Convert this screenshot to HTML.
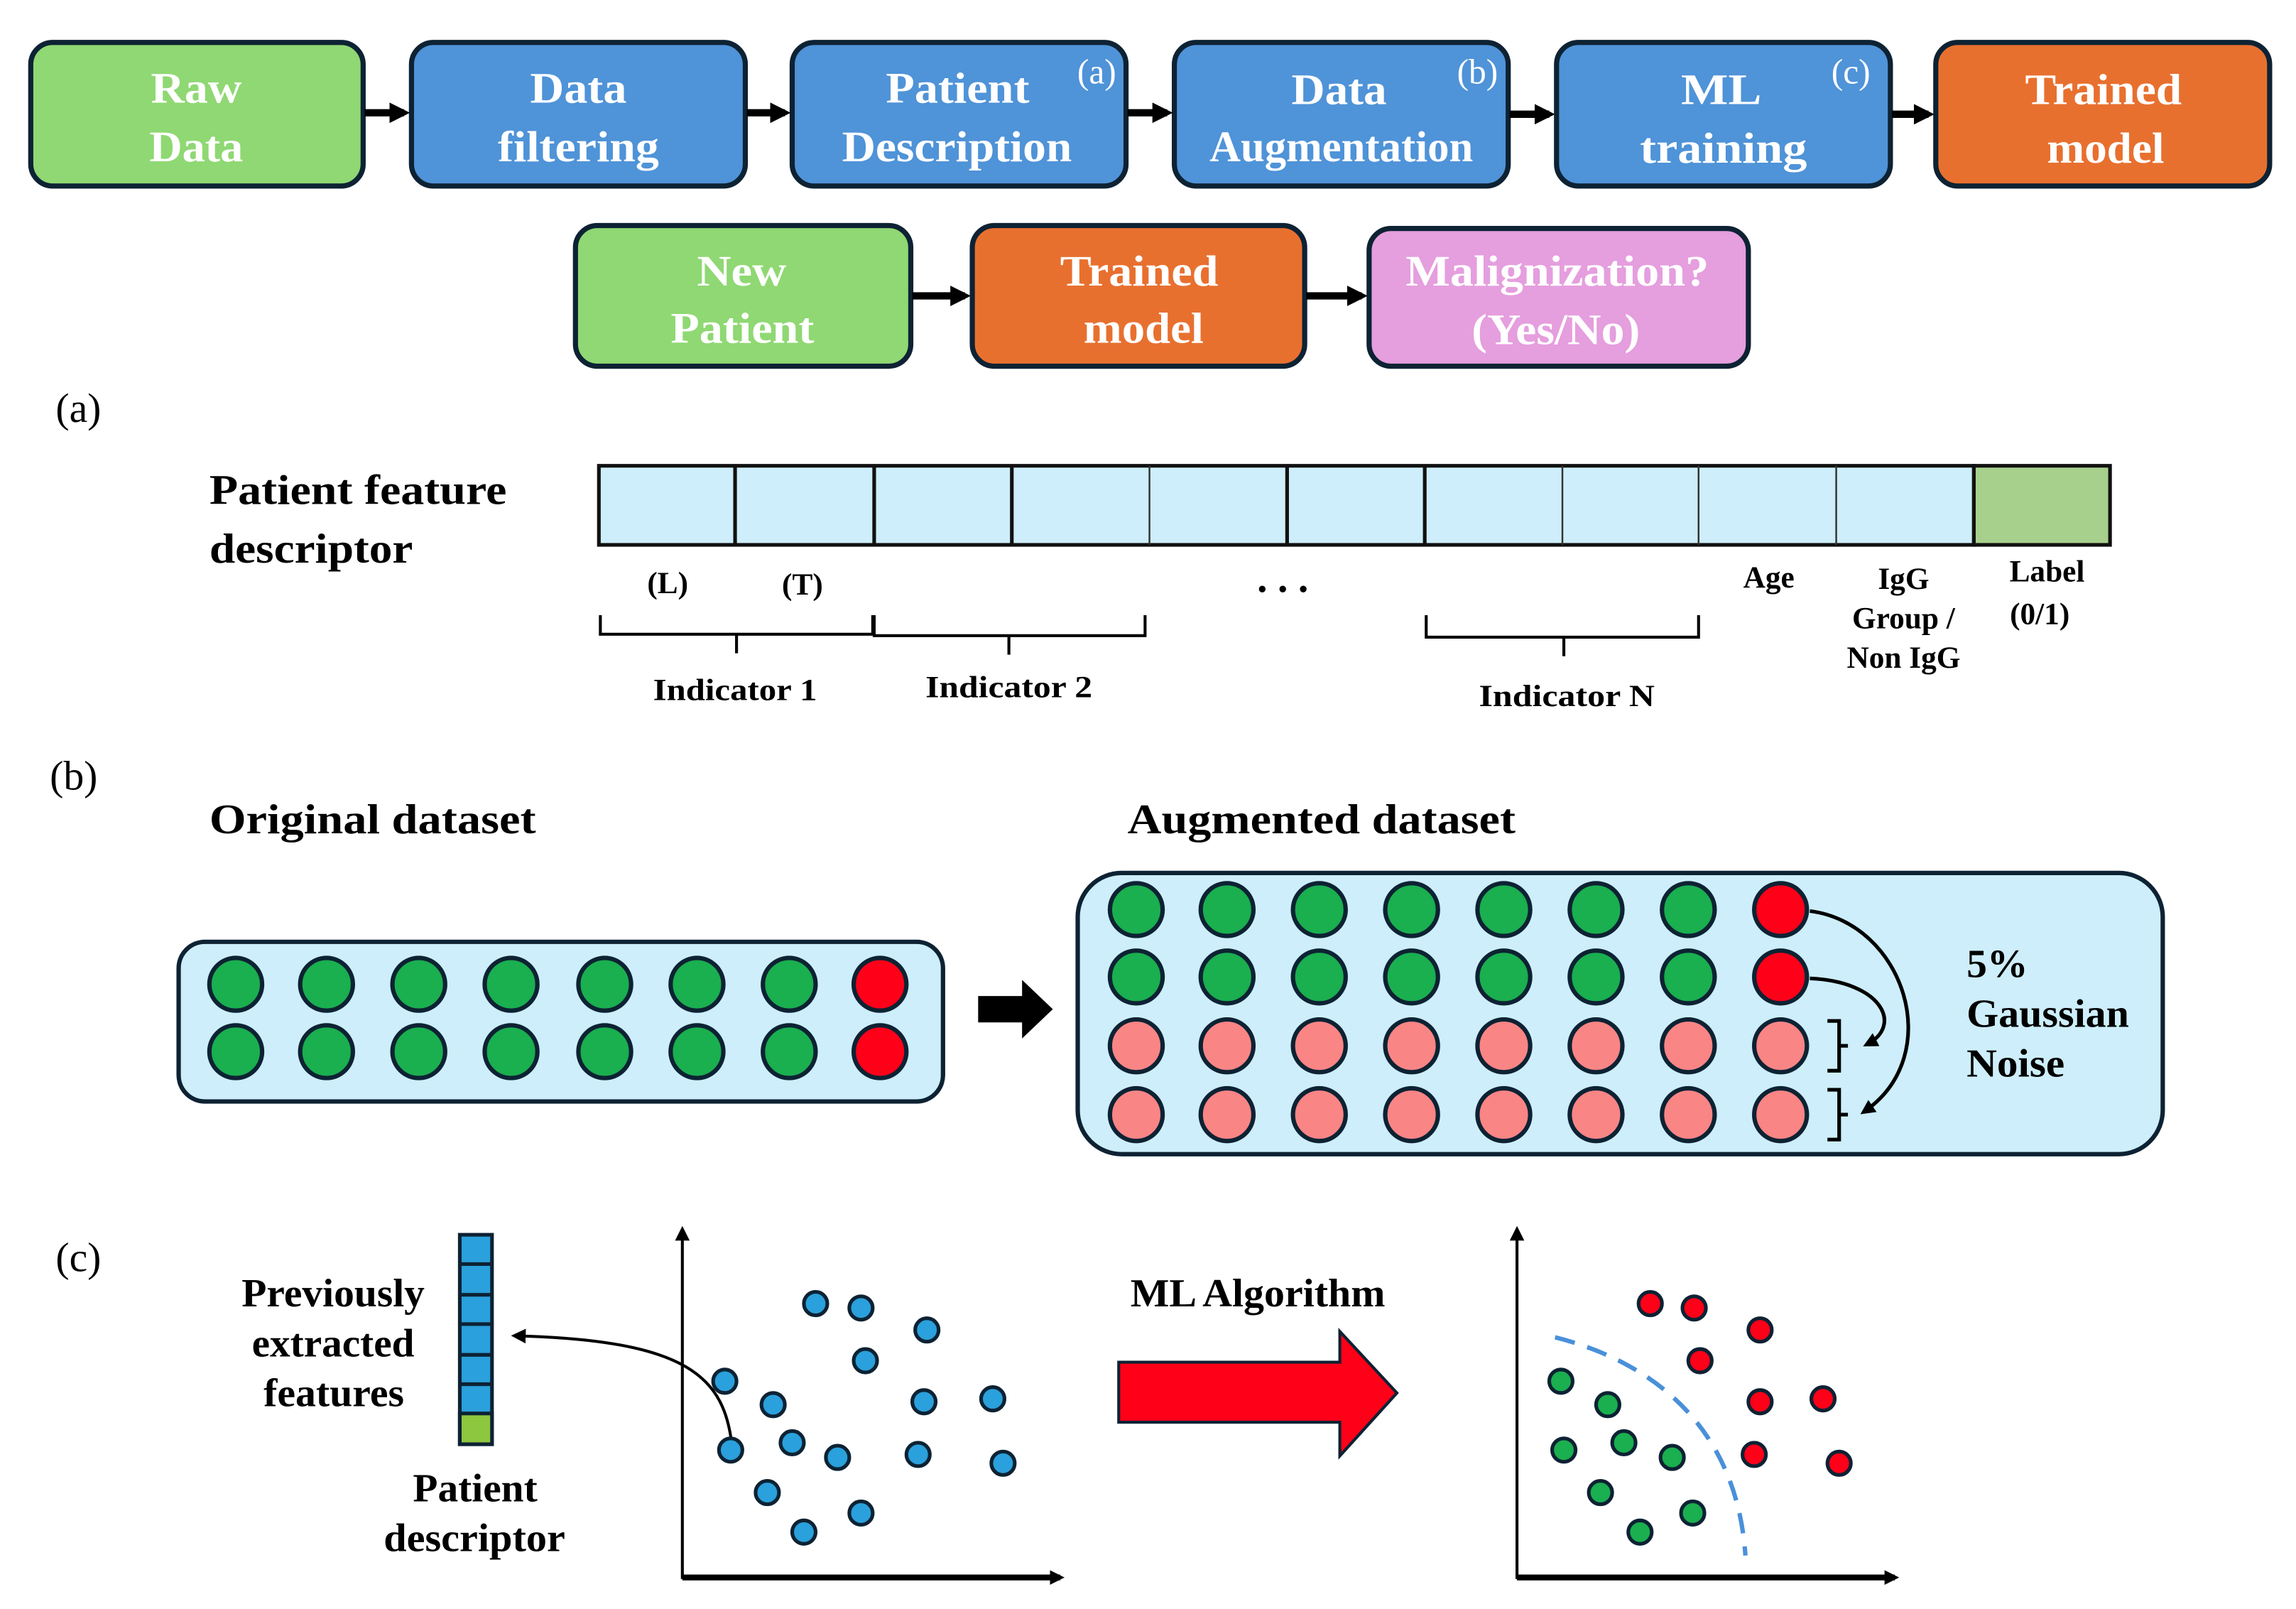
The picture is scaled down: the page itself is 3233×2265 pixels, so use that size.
<!DOCTYPE html>
<html><head><meta charset="utf-8"><style>html,body{margin:0;padding:0;background:#fff}svg{display:block}</style></head>
<body>
<svg width="3233" height="2265" viewBox="0 0 1568 1098.5" preserveAspectRatio="none" xmlns="http://www.w3.org/2000/svg" font-family="Liberation Serif, serif">
<defs>
<marker id="ah" markerWidth="10" markerHeight="10" refX="7" refY="5" orient="auto" markerUnits="userSpaceOnUse"><path d="M0,0 L10,5 L0,10 Z" fill="#000"/></marker>
<marker id="ab" markerWidth="14" markerHeight="14" refX="10" refY="7" orient="auto" markerUnits="userSpaceOnUse"><path d="M0,0 L14,7 L0,14 Z" fill="#000"/></marker>
</defs>
<g stroke="#0d2233" stroke-width="3.5">
<rect x="21" y="29" width="227" height="98" rx="15" fill="#8fd873"/>
<rect x="281" y="29" width="228" height="98" rx="15" fill="#4f93d8"/>
<rect x="541" y="29" width="228" height="98" rx="15" fill="#4f93d8"/>
<rect x="802" y="29" width="228" height="98" rx="15" fill="#4f93d8"/>
<rect x="1063" y="29" width="228" height="98" rx="15" fill="#4f93d8"/>
<rect x="1322" y="29" width="228" height="98" rx="15" fill="#e8702f"/>
<rect x="393" y="154" width="229" height="96" rx="15" fill="#8fd873"/>
<rect x="664" y="154" width="227" height="96" rx="15" fill="#e8702f"/>
<rect x="935" y="156" width="259" height="94" rx="15" fill="#e59ede"/>
</g>
<g stroke="#000" stroke-width="5" marker-end="url(#ab)">
<line x1="249" y1="77" x2="276" y2="77"/><line x1="510" y1="77" x2="536" y2="77"/><line x1="770" y1="77" x2="797" y2="77"/>
<line x1="1031" y1="78" x2="1058" y2="78"/><line x1="1292" y1="78" x2="1317" y2="78"/>
<line x1="623" y1="202" x2="659" y2="202"/><line x1="892" y1="202" x2="930" y2="202"/>
</g>
<g fill="#fff" font-weight="bold" font-size="30" lengthAdjust="spacingAndGlyphs">
<text x="103" y="70" textLength="62" lengthAdjust="spacingAndGlyphs">Raw</text><text x="102" y="110" textLength="64" lengthAdjust="spacingAndGlyphs">Data</text>
<text x="362" y="70" textLength="66" lengthAdjust="spacingAndGlyphs">Data</text><text x="340" y="110" textLength="110" lengthAdjust="spacingAndGlyphs">filtering</text>
<text x="605" y="70" textLength="98" lengthAdjust="spacingAndGlyphs">Patient</text><text x="575" y="110" textLength="157" lengthAdjust="spacingAndGlyphs">Description</text>
<text x="882" y="71" textLength="65" lengthAdjust="spacingAndGlyphs">Data</text><text x="826" y="110" textLength="180" lengthAdjust="spacingAndGlyphs">Augmentation</text>
<text x="1148" y="71" textLength="55" lengthAdjust="spacingAndGlyphs">ML</text><text x="1120" y="111" textLength="114" lengthAdjust="spacingAndGlyphs">training</text>
<text x="1383" y="71" textLength="107" lengthAdjust="spacingAndGlyphs">Trained</text><text x="1398" y="111" textLength="80" lengthAdjust="spacingAndGlyphs">model</text>
<text x="476" y="195" textLength="61" lengthAdjust="spacingAndGlyphs">New</text><text x="458" y="234" textLength="98" lengthAdjust="spacingAndGlyphs">Patient</text>
<text x="724" y="195" textLength="108" lengthAdjust="spacingAndGlyphs">Trained</text><text x="740" y="234" textLength="82" lengthAdjust="spacingAndGlyphs">model</text>
<text x="960" y="195" textLength="207" lengthAdjust="spacingAndGlyphs">Malignization?</text><text x="1005" y="235" textLength="115" lengthAdjust="spacingAndGlyphs">(Yes/No)</text>
</g>
<g fill="#fff" font-size="24" text-anchor="middle"><text x="749" y="57">(a)</text><text x="1009" y="57">(b)</text><text x="1264" y="57">(c)</text></g>

<g font-size="28" fill="#000"><text x="38" y="288">(a)</text><text x="34" y="539">(b)</text><text x="38" y="868">(c)</text></g>
<g font-weight="bold" font-size="29" fill="#000">
<text x="143" y="344" textLength="203" lengthAdjust="spacingAndGlyphs">Patient feature</text><text x="143" y="384" textLength="139" lengthAdjust="spacingAndGlyphs">descriptor</text>
<text x="143" y="569" textLength="223" lengthAdjust="spacingAndGlyphs">Original dataset</text><text x="770" y="569" textLength="265" lengthAdjust="spacingAndGlyphs">Augmented dataset</text>
</g>
<rect x="409" y="318" width="939" height="54" fill="#cdeefa" stroke="#111" stroke-width="2.5"/>
<rect x="1348" y="318" width="93" height="54" fill="#a8d08d" stroke="#111" stroke-width="2.5"/>
<g stroke="#111" stroke-width="2.5"><line x1="502" y1="318" x2="502" y2="372"/><line x1="597" y1="318" x2="597" y2="372"/><line x1="691" y1="318" x2="691" y2="372"/><line x1="879" y1="318" x2="879" y2="372"/><line x1="973" y1="318" x2="973" y2="372"/></g>
<g stroke="#333" stroke-width="1.2"><line x1="785" y1="318" x2="785" y2="372"/><line x1="1067" y1="318" x2="1067" y2="372"/><line x1="1160" y1="318" x2="1160" y2="372"/><line x1="1254" y1="318" x2="1254" y2="372"/></g>
<g font-weight="bold" font-size="21" text-anchor="middle" fill="#000">
<text x="456" y="405">(L)</text><text x="548" y="406">(T)</text><text x="876" y="404" font-size="28">. . .</text>
<text x="1208" y="401">Age</text><text x="1300" y="402">IgG</text><text x="1300" y="429">Group /</text><text x="1300" y="456">Non IgG</text>
<text x="1398" y="397">Label</text><text x="1393" y="426">(0/1)</text>
<text x="502" y="478" textLength="112" lengthAdjust="spacingAndGlyphs">Indicator 1</text><text x="689" y="476" textLength="114" lengthAdjust="spacingAndGlyphs">Indicator 2</text><text x="1070" y="482" textLength="120" lengthAdjust="spacingAndGlyphs">Indicator N</text>
</g>
<g fill="none" stroke="#000" stroke-width="2">
<path d="M410,420 V433 H596 V420 M503,433 V446"/>
<path d="M597,420 V434 H782 V420 M689,434 V447"/>
<path d="M974,420 V435 H1160 V420 M1068,435 V448"/>
</g>

<rect x="122" y="643" width="522" height="109" rx="18" fill="#cdeefa" stroke="#0d2233" stroke-width="3"/>
<rect x="736" y="596" width="741" height="192" rx="30" fill="#cdeefa" stroke="#0d2233" stroke-width="3"/>
<g stroke="#0d2233" stroke-width="3">
<g fill="#1aaf4f">
<circle cx="161" cy="672" r="18"/><circle cx="223" cy="672" r="18"/><circle cx="286" cy="672" r="18"/><circle cx="349" cy="672" r="18"/><circle cx="413" cy="672" r="18"/><circle cx="476" cy="672" r="18"/><circle cx="539" cy="672" r="18"/>
<circle cx="161" cy="718" r="18"/><circle cx="223" cy="718" r="18"/><circle cx="286" cy="718" r="18"/><circle cx="349" cy="718" r="18"/><circle cx="413" cy="718" r="18"/><circle cx="476" cy="718" r="18"/><circle cx="539" cy="718" r="18"/>
<circle cx="776" cy="621" r="18"/><circle cx="838" cy="621" r="18"/><circle cx="901" cy="621" r="18"/><circle cx="964" cy="621" r="18"/><circle cx="1027" cy="621" r="18"/><circle cx="1090" cy="621" r="18"/><circle cx="1153" cy="621" r="18"/>
<circle cx="776" cy="667" r="18"/><circle cx="838" cy="667" r="18"/><circle cx="901" cy="667" r="18"/><circle cx="964" cy="667" r="18"/><circle cx="1027" cy="667" r="18"/><circle cx="1090" cy="667" r="18"/><circle cx="1153" cy="667" r="18"/>
</g>
<g fill="#ff0019"><circle cx="601" cy="672" r="18"/><circle cx="601" cy="718" r="18"/><circle cx="1216" cy="621" r="18"/><circle cx="1216" cy="667" r="18"/></g>
<g fill="#fa8585">
<circle cx="776" cy="714" r="18"/><circle cx="838" cy="714" r="18"/><circle cx="901" cy="714" r="18"/><circle cx="964" cy="714" r="18"/><circle cx="1027" cy="714" r="18"/><circle cx="1090" cy="714" r="18"/><circle cx="1153" cy="714" r="18"/><circle cx="1216" cy="714" r="18"/>
<circle cx="776" cy="761" r="18"/><circle cx="838" cy="761" r="18"/><circle cx="901" cy="761" r="18"/><circle cx="964" cy="761" r="18"/><circle cx="1027" cy="761" r="18"/><circle cx="1090" cy="761" r="18"/><circle cx="1153" cy="761" r="18"/><circle cx="1216" cy="761" r="18"/>
</g>
</g>
<path d="M668,680 H698 V669 L719,689 L698,709 V698 H668 Z" fill="#000"/>
<g fill="none" stroke="#000" stroke-width="2.5">
<path d="M1248,697 H1256 V731 H1248 M1256,714 H1262"/>
<path d="M1248,744 H1256 V778 H1248 M1256,761 H1262"/>
<path d="M1236,622 C1300,630 1330,720 1273,759" marker-end="url(#ah)"/>
<path d="M1236,668 C1285,670 1300,700 1275,713" marker-end="url(#ah)"/>
</g>
<g font-weight="bold" font-size="27" fill="#000"><text x="1343" y="667" textLength="42" lengthAdjust="spacingAndGlyphs">5%</text><text x="1343" y="701" textLength="111" lengthAdjust="spacingAndGlyphs">Gaussian</text><text x="1343" y="735" textLength="67" lengthAdjust="spacingAndGlyphs">Noise</text></g>

<g stroke="#0d2233" stroke-width="2.5">
<rect x="314" y="843" width="22" height="143" fill="#2aa0dc"/>
<rect x="314" y="965" width="22" height="21" fill="#8dc63f"/>
<line x1="314" y1="863" x2="336" y2="863"/><line x1="314" y1="884" x2="336" y2="884"/><line x1="314" y1="904" x2="336" y2="904"/><line x1="314" y1="925" x2="336" y2="925"/><line x1="314" y1="945" x2="336" y2="945"/>
</g>
<g font-weight="bold" font-size="27" fill="#000">
<text x="165" y="892" textLength="125" lengthAdjust="spacingAndGlyphs">Previously</text><text x="172" y="926" textLength="111" lengthAdjust="spacingAndGlyphs">extracted</text><text x="180" y="960" textLength="96" lengthAdjust="spacingAndGlyphs">features</text>
<text x="282" y="1025" textLength="85" lengthAdjust="spacingAndGlyphs">Patient</text><text x="262" y="1059" textLength="124" lengthAdjust="spacingAndGlyphs">descriptor</text>
<text x="772" y="892" textLength="174" lengthAdjust="spacingAndGlyphs">ML Algorithm</text>
</g>
<path d="M500,988 C495,940 470,915 352,912" fill="none" stroke="#000" stroke-width="2" marker-end="url(#ah)"/>
<g stroke="#000" fill="none">
<line x1="466" y1="1078" x2="466" y2="840" stroke-width="2" marker-end="url(#ah)"/>
<line x1="466" y1="1077" x2="724" y2="1077" stroke-width="4" marker-end="url(#ah)"/>
<line x1="1036" y1="1078" x2="1036" y2="840" stroke-width="2" marker-end="url(#ah)"/>
<line x1="1036" y1="1077" x2="1294" y2="1077" stroke-width="4" marker-end="url(#ah)"/>
</g>
<path d="M764,930 H915 V909 L954,951 L915,994 V971 H764 Z" fill="#ff0019" stroke="#0d2233" stroke-width="2"/>
<g stroke="#0d2233" stroke-width="2.5" fill="#2aa0dc">
<circle cx="557" cy="890" r="8"/><circle cx="588" cy="893" r="8"/><circle cx="633" cy="908" r="8"/><circle cx="591" cy="929" r="8"/><circle cx="495" cy="943" r="8"/><circle cx="528" cy="959" r="8"/><circle cx="631" cy="957" r="8"/><circle cx="678" cy="955" r="8"/><circle cx="499" cy="990" r="8"/><circle cx="541" cy="985" r="8"/><circle cx="572" cy="995" r="8"/><circle cx="627" cy="993" r="8"/><circle cx="685" cy="999" r="8"/><circle cx="524" cy="1019" r="8"/><circle cx="588" cy="1033" r="8"/><circle cx="549" cy="1046" r="8"/>
</g>
<path d="M1062,913 C1110,925 1185,960 1192,1062" fill="none" stroke="#4a90d9" stroke-width="3" stroke-dasharray="14,9"/>
<g stroke="#0d2233" stroke-width="2.5">
<g fill="#ff0019"><circle cx="1127" cy="890" r="8"/><circle cx="1157" cy="893" r="8"/><circle cx="1202" cy="908" r="8"/><circle cx="1161" cy="929" r="8"/><circle cx="1202" cy="957" r="8"/><circle cx="1245" cy="955" r="8"/><circle cx="1198" cy="993" r="8"/><circle cx="1256" cy="999" r="8"/></g>
<g fill="#1aaf4f"><circle cx="1066" cy="943" r="8"/><circle cx="1098" cy="959" r="8"/><circle cx="1068" cy="990" r="8"/><circle cx="1109" cy="985" r="8"/><circle cx="1142" cy="995" r="8"/><circle cx="1093" cy="1019" r="8"/><circle cx="1156" cy="1033" r="8"/><circle cx="1120" cy="1046" r="8"/></g>
</g>
</svg>
</body></html>
